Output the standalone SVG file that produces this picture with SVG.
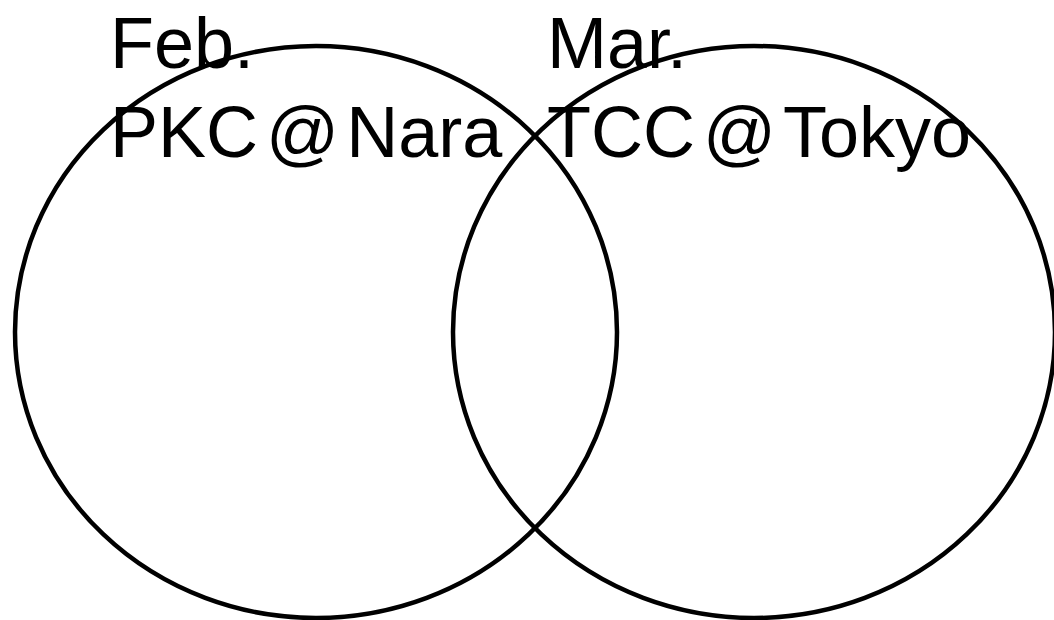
<svg xmlns="http://www.w3.org/2000/svg" width="1054" height="620" viewBox="0 0 1054 620">
<style>
.c{fill:none;stroke:#000;stroke-width:4.5}
.t{font-family:"Liberation Sans",Arial,sans-serif;font-size:72px;fill:#000}
</style>
<rect width="1054" height="620" fill="#fff"/>
<g id="left-set">
<ellipse class="c" cx="316" cy="332" rx="301" ry="286"/>
<text class="t" x="110" y="68">Feb.</text>
<text class="t" x="110" y="157">PKC<tspan dx="8">@</tspan><tspan dx="7">Nara</tspan></text>
</g>
<g id="right-set">
<ellipse class="c" cx="754" cy="332" rx="301" ry="286"/>
<text class="t" x="547" y="68">Mar.</text>
<text class="t" x="547" y="157">TCC<tspan dx="8">@</tspan><tspan dx="7">Tokyo</tspan></text>
</g>
<g id="connectors"></g>
</svg>
